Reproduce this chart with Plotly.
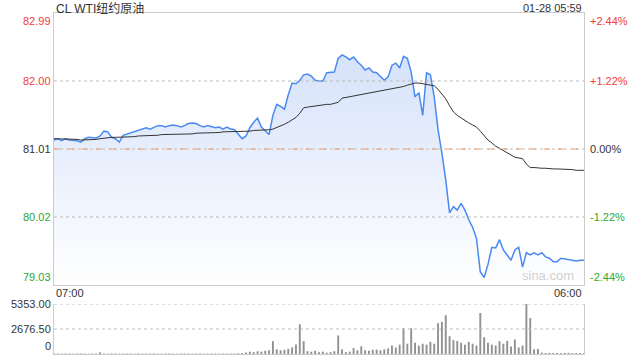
import plotly.graph_objects as go
import pandas as pd

title = "CL WTI纽约原油"
stamp = "01-28 05:59"
prev_close = 81.01
y_ticks = [82.99, 82.00, 81.01, 80.02, 79.03]
y_tick_labels = ["82.99", "82.00", "81.01", "80.02", "79.03"]
pct_labels = ["+2.44%", "+1.22%", "0.00%", "-1.22%", "-2.44%"]
vol_ticks = [5353.00, 2676.50, 0]
vol_labels = ["5353.00", "2676.50", "0"]
x_tick_times = ["2025-01-27 07:00", "2025-01-28 06:00"]
x_tick_labels = ["07:00", "06:00"]

times = pd.date_range("2025-01-27 07:00", periods=139, freq="10min")

price = [
    81.14, 81.16, 81.13, 81.16, 81.14, 81.14, 81.13, 81.11, 81.16, 81.18,
    81.18, 81.17, 81.20, 81.27, 81.26, 81.18, 81.16, 81.11, 81.21, 81.23,
    81.24, 81.27, 81.29, 81.30, 81.32, 81.30, 81.32, 81.35, 81.35, 81.33,
    81.35, 81.36, 81.35, 81.33, 81.35, 81.38, 81.39, 81.38, 81.35, 81.33,
    81.35, 81.33, 81.32, 81.33, 81.30, 81.33, 81.30, 81.29, 81.23, 81.16,
    81.20, 81.32, 81.40, 81.46, 81.33, 81.27, 81.22, 81.50, 81.66, 81.63,
    81.59, 81.80, 81.97, 81.96, 82.01, 82.09, 82.10, 82.07, 82.01, 82.00,
    82.00, 82.12, 82.12, 82.13, 82.33, 82.38, 82.35, 82.31, 82.35, 82.28,
    82.23, 82.16, 82.19, 82.13, 82.12, 82.06, 82.01, 82.06, 82.23, 82.26,
    82.19, 82.36, 82.33, 82.13, 81.77, 81.83, 81.50, 82.12, 82.09, 81.77,
    81.29, 80.95, 80.56, 80.08, 80.17, 80.12, 80.22, 80.12, 79.98, 79.87,
    79.71, 79.22, 79.14, 79.33, 79.58, 79.57, 79.69, 79.54, 79.47, 79.39,
    79.54, 79.58, 79.29, 79.50, 79.47, 79.50, 79.47, 79.50, 79.44, 79.42,
    79.37, 79.37, 79.42, 79.41, 79.39, 79.39, 79.38, 79.39, 79.39,
]

avg_price = [
    81.16, 81.16, 81.16, 81.15, 81.15, 81.15, 81.15, 81.14, 81.14, 81.14,
    81.14, 81.15, 81.16, 81.17, 81.17, 81.18, 81.18, 81.18, 81.18, 81.19,
    81.19, 81.19, 81.20, 81.20, 81.21, 81.21, 81.21, 81.21, 81.22, 81.22,
    81.22, 81.22, 81.23, 81.23, 81.23, 81.23, 81.23, 81.24, 81.24, 81.24,
    81.24, 81.25, 81.25, 81.25, 81.26, 81.26, 81.26, 81.26, 81.27, 81.27,
    81.27, 81.27, 81.28, 81.28, 81.29, 81.29, 81.29, 81.30, 81.32, 81.34,
    81.37, 81.40, 81.43, 81.47, 81.53, 81.61, 81.62, 81.63, 81.64, 81.65,
    81.65, 81.66, 81.66, 81.67, 81.69, 81.75, 81.76, 81.77, 81.78, 81.79,
    81.80, 81.81, 81.83, 81.84, 81.85, 81.85, 81.86, 81.87, 81.88, 81.89,
    81.90, 81.92, 81.94, 81.96, 81.97, 81.97, 81.96, 81.95, 81.94, 81.93,
    81.88, 81.81, 81.74, 81.64, 81.55, 81.50, 81.46, 81.43, 81.39, 81.36,
    81.33, 81.27, 81.20, 81.14, 81.10, 81.05, 81.02, 80.99, 80.95, 80.92,
    80.89, 80.88, 80.87, 80.79, 80.74, 80.74, 80.73, 80.73, 80.73, 80.72,
    80.72, 80.72, 80.72, 80.71, 80.71, 80.71, 80.70, 80.70, 80.70,
]

volume = [
    60, 50, 40, 60, 50, 40, 50, 60, 50, 40,
    50, 60, 180, 50, 40, 60, 50, 40, 50, 60,
    50, 40, 60, 50, 40, 50, 60, 50, 40, 50,
    60, 50, 40, 50, 60, 50, 40, 60, 50, 40,
    50, 60, 50, 40, 50, 60, 50, 60, 80, 100,
    150, 250, 200, 300, 250, 350, 400, 1375, 500, 400,
    450, 550, 700, 1010, 3190, 1375, 300, 250, 350, 200,
    250, 150, 200, 300, 1990, 500, 200, 250, 650, 400,
    830, 400, 350, 450, 470, 400, 500, 600, 900, 700,
    1000, 2750, 1100, 2750, 1200, 900, 1100, 1000, 1300, 1100,
    3300, 3440, 4160, 1900, 1500, 1400, 1200, 1000, 1300, 1100,
    900, 4380, 1800, 1200, 1000, 900, 1375, 1100, 1400, 800,
    1550, 700, 900, 5353, 3840, 500, 540, 150, 100, 120,
    90, 110, 80, 100, 120, 90, 100, 110, 90,
]

RED = "#f03c3c"
GREEN = "#2fa82f"
DARK = "#333333"
FONT = "Liberation Sans, Arial, Noto Sans CJK SC, sans-serif"
label_colors = [RED, RED, DARK, GREEN, GREEN]

fig = go.Figure()

fig.add_trace(go.Scatter(
    x=times, y=price, mode="lines", fill="tozeroy",
    line=dict(color="#4a8af0", width=1.5),
    fillgradient=dict(type="vertical", start=79.03, stop=82.99,
                      colorscale=[[0, "rgba(255,255,255,1)"], [1, "rgba(206,221,249,1)"]]),
    xaxis="x", yaxis="y", hoverinfo="skip", showlegend=False,
))
fig.add_trace(go.Scatter(
    x=times, y=avg_price, mode="lines",
    line=dict(color="#333333", width=1),
    xaxis="x", yaxis="y", hoverinfo="skip", showlegend=False,
))
fig.add_trace(go.Bar(
    x=times, y=volume, marker=dict(color="rgba(100,100,100,0.7)", line=dict(width=0)),
    xaxis="x2", yaxis="y2", hoverinfo="skip", showlegend=False,
))

xr = [x_tick_times[0], x_tick_times[1]]
fig.update_layout(
    width=640, height=360,
    margin=dict(l=54, r=56, t=13, b=6),
    paper_bgcolor="white", plot_bgcolor="white",
    font=dict(family=FONT, size=11, color=DARK),
    bargap=0.5,
    xaxis=dict(domain=[0, 1], range=xr, showticklabels=False, showgrid=False,
               zeroline=False, showline=True, linecolor="#cccccc", linewidth=1, mirror=True,
               anchor="y"),
    yaxis=dict(domain=[0.2023, 1], range=[y_ticks[-1], y_ticks[0]], showticklabels=False,
               showgrid=False, zeroline=False, showline=True, linecolor="#cccccc",
               linewidth=1, mirror=True, anchor="x"),
    xaxis2=dict(domain=[0, 1], range=xr, showticklabels=False, showgrid=False,
                zeroline=False, showline=True, linecolor="#cccccc", linewidth=1,
                anchor="y2"),
    yaxis2=dict(domain=[0, 0.1466], range=[0, vol_ticks[0]], showticklabels=False,
                showgrid=False, zeroline=False, showline=True, linecolor="#cccccc",
                linewidth=1, mirror=True, anchor="x2"),
)

shapes = []
for v in [y_ticks[1], y_ticks[2], y_ticks[3]]:
    shapes.append(dict(type="line", xref="x domain", x0=0, x1=1, yref="y", y0=v, y1=v,
                       line=dict(color="#bbbbbb", width=1, dash="dot"), layer="above"))
shapes.append(dict(type="line", xref="x domain", x0=0, x1=1, yref="y", y0=prev_close, y1=prev_close,
                   line=dict(color="#f0a070", width=1, dash="6px,8px"), layer="above"))
for v in vol_ticks[:2]:
    shapes.append(dict(type="line", xref="x2 domain", x0=0, x1=1, yref="y2", y0=v, y1=v,
                       line=dict(color="#bbbbbb", width=1, dash="dot"), layer="above"))
fig.update_layout(shapes=shapes)

ann = []
n = len(y_ticks)
for i, (v, t, p, c) in enumerate(zip(y_ticks, y_tick_labels, pct_labels, label_colors)):
    ya = "top" if i == 0 else ("bottom" if i == n - 1 else "middle")
    ann.append(dict(xref="paper", x=0, xanchor="right", xshift=-1, yref="y", y=v, yanchor=ya,
                    text=t, showarrow=False, font=dict(color=c, size=11)))
    ann.append(dict(xref="paper", x=1, xanchor="left", xshift=4, yref="y", y=v, yanchor=ya,
                    text=p, showarrow=False, font=dict(color=c, size=11)))
for i, (v, t) in enumerate(zip(vol_ticks, vol_labels)):
    ya = "bottom" if i == len(vol_ticks) - 1 else "middle"
    ann.append(dict(xref="paper", x=0, xanchor="right", xshift=-1, yref="y2", y=v, yanchor=ya,
                    text=t, showarrow=False, font=dict(color=DARK, size=11)))
ann.append(dict(xref="x", x=x_tick_times[0], xanchor="left", yref="y domain", y=0,
                yanchor="middle", yshift=-8, text=x_tick_labels[0], showarrow=False,
                font=dict(color=DARK, size=11)))
ann.append(dict(xref="x", x=x_tick_times[1], xanchor="right", yref="y domain", y=0,
                yanchor="middle", yshift=-8, text=x_tick_labels[1], showarrow=False,
                font=dict(color=DARK, size=11)))
ann.append(dict(xref="paper", x=0, xanchor="left", yref="paper", y=1, yanchor="middle",
                yshift=5, text=title, showarrow=False, font=dict(color=DARK, size=12)))
ann.append(dict(xref="paper", x=1, xanchor="right", yref="paper", y=1, yanchor="middle",
                yshift=5, text=stamp, showarrow=False, font=dict(color=DARK, size=11)))
ann.append(dict(xref="x domain", x=1, xanchor="right", xshift=-8, yref="y domain", y=0,
                yanchor="bottom", text="sina.com", showarrow=False,
                font=dict(color="#d0d0d0", size=13)))
fig.update_layout(annotations=ann)

fig.write_html("out.html")
